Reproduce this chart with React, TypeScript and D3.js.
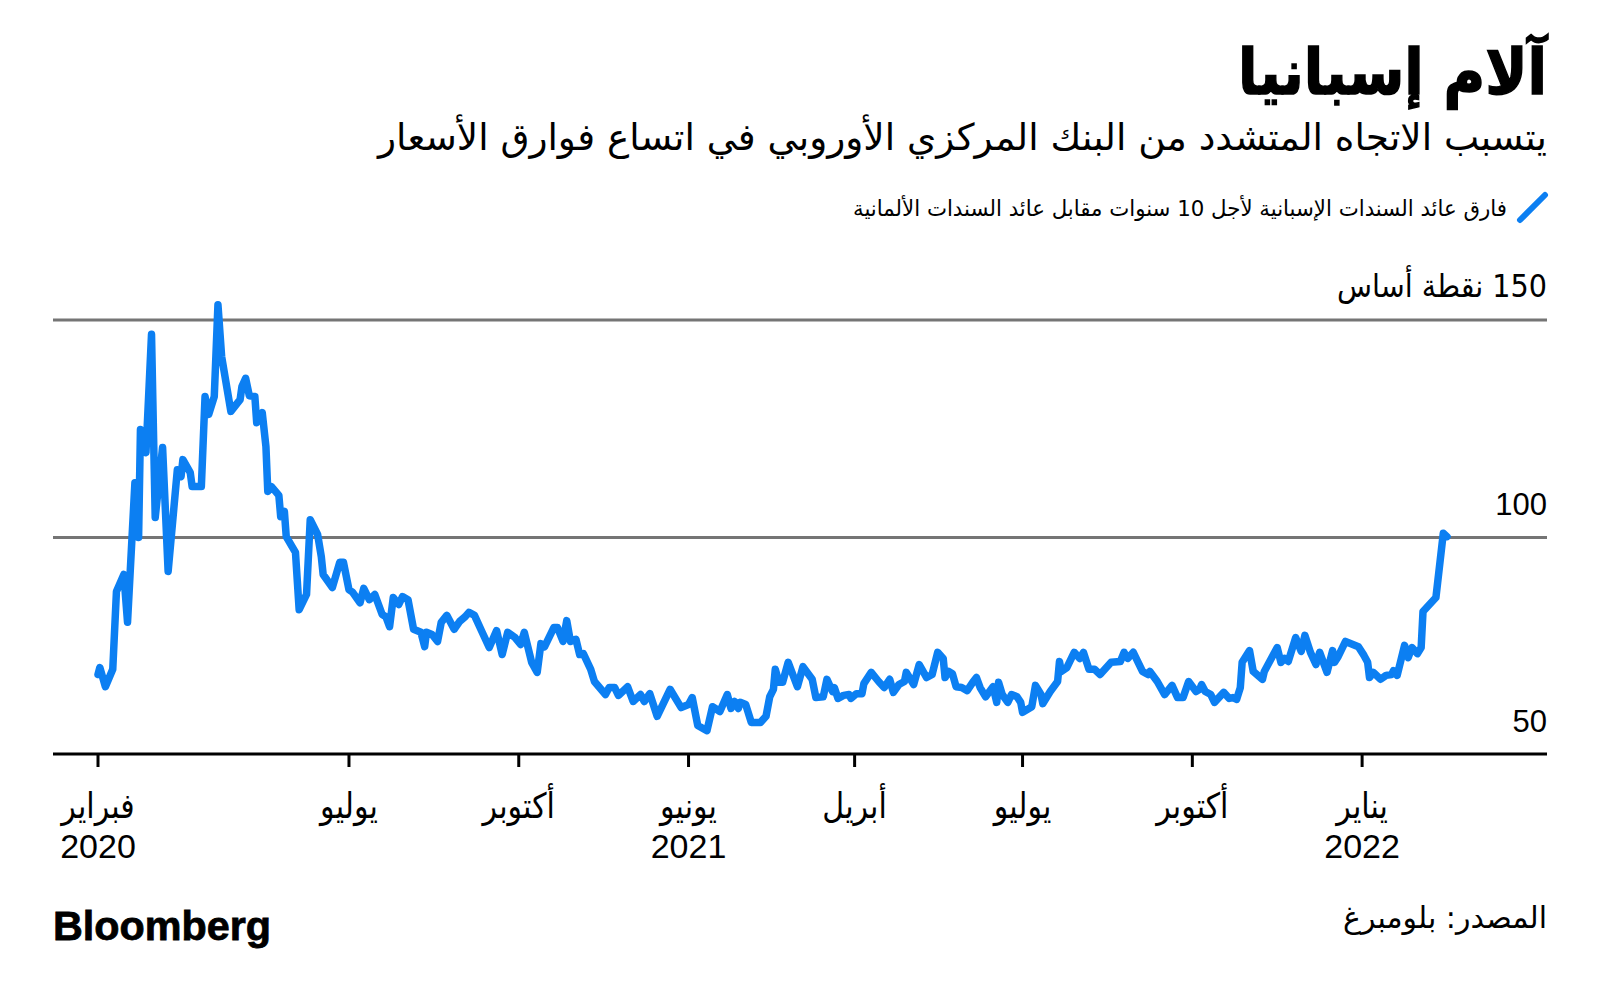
import React from "react";
import * as d3 from "d3";

const W = 1600;
const H = 1004;

const titleText = "آلام إسبانيا";
const subtitleText = "يتسبب الاتجاه المتشدد من البنك المركزي الأوروبي في اتساع فوارق الأسعار";
const legendText = "فارق عائد السندات الإسبانية لأجل 10 سنوات مقابل عائد السندات الألمانية";
const sourceText = "المصدر: بلومبرغ";
const yUnit = " نقطة أساس";

const yTicks = [50, 100, 150];
const xTickDates = ["2020-02-16", "2020-07-01", "2020-10-01", "2021-01-01", "2021-04-01", "2021-07-01", "2021-10-01", "2022-01-01"];
const xTickMonths = ["فبراير", "يوليو", "أكتوبر", "يونيو", "أبريل", "يوليو", "أكتوبر", "يناير"];
const xTickYears = ["2020", "", "", "2021", "", "", "", "2022"];

const dates = [
  "2020-02-16", "2020-02-17", "2020-02-20", "2020-02-24", "2020-02-26", "2020-03-01", "2020-03-03", "2020-03-07",
  "2020-03-09", "2020-03-10", "2020-03-13", "2020-03-16", "2020-03-18", "2020-03-22", "2020-03-25", "2020-03-30",
  "2020-04-01", "2020-04-02", "2020-04-06", "2020-04-07", "2020-04-12", "2020-04-14", "2020-04-16", "2020-04-19",
  "2020-04-21", "2020-04-23", "2020-04-28", "2020-05-03", "2020-05-04", "2020-05-06", "2020-05-08", "2020-05-11",
  "2020-05-12", "2020-05-15", "2020-05-17", "2020-05-18", "2020-05-20", "2020-05-24", "2020-05-25", "2020-05-27",
  "2020-05-28", "2020-06-02", "2020-06-04", "2020-06-08", "2020-06-10", "2020-06-14", "2020-06-16", "2020-06-17",
  "2020-06-22", "2020-06-26", "2020-06-28", "2020-07-01", "2020-07-03", "2020-07-07", "2020-07-09", "2020-07-12",
  "2020-07-15", "2020-07-19", "2020-07-21", "2020-07-23", "2020-07-25", "2020-07-28", "2020-07-30", "2020-08-02",
  "2020-08-05", "2020-08-09", "2020-08-11", "2020-08-12", "2020-08-15", "2020-08-18", "2020-08-20", "2020-08-23",
  "2020-08-27", "2020-08-30", "2020-09-02", "2020-09-04", "2020-09-07", "2020-09-11", "2020-09-15", "2020-09-19",
  "2020-09-22", "2020-09-25", "2020-09-29", "2020-10-02", "2020-10-04", "2020-10-08", "2020-10-11", "2020-10-13",
  "2020-10-15", "2020-10-20", "2020-10-22", "2020-10-25", "2020-10-27", "2020-10-29", "2020-11-01", "2020-11-03",
  "2020-11-05", "2020-11-09", "2020-11-11", "2020-11-17", "2020-11-19", "2020-11-22", "2020-11-24", "2020-11-29",
  "2020-12-02", "2020-12-06", "2020-12-08", "2020-12-11", "2020-12-15", "2020-12-22", "2020-12-28", "2021-01-01",
  "2021-01-03", "2021-01-06", "2021-01-11", "2021-01-14", "2021-01-18", "2021-01-22", "2021-01-24", "2021-01-26",
  "2021-01-28", "2021-01-29", "2021-02-01", "2021-02-04", "2021-02-09", "2021-02-12", "2021-02-14", "2021-02-16",
  "2021-02-17", "2021-02-19", "2021-02-21", "2021-02-24", "2021-03-01", "2021-03-04", "2021-03-09", "2021-03-11",
  "2021-03-15", "2021-03-17", "2021-03-20", "2021-03-21", "2021-03-23", "2021-03-26", "2021-03-29", "2021-03-30",
  "2021-04-02", "2021-04-05", "2021-04-06", "2021-04-10", "2021-04-14", "2021-04-17", "2021-04-20", "2021-04-22",
  "2021-04-25", "2021-04-28", "2021-04-29", "2021-05-03", "2021-05-06", "2021-05-10", "2021-05-13", "2021-05-16",
  "2021-05-19", "2021-05-20", "2021-05-22", "2021-05-24", "2021-05-26", "2021-05-29", "2021-06-01", "2021-06-04",
  "2021-06-06", "2021-06-08", "2021-06-11", "2021-06-15", "2021-06-17", "2021-06-18", "2021-06-20", "2021-06-23",
  "2021-06-25", "2021-06-28", "2021-06-30", "2021-07-01", "2021-07-06", "2021-07-08", "2021-07-11", "2021-07-12",
  "2021-07-16", "2021-07-20", "2021-07-21", "2021-07-22", "2021-07-25", "2021-07-29", "2021-08-01", "2021-08-03",
  "2021-08-06", "2021-08-09", "2021-08-12", "2021-08-18", "2021-08-23", "2021-08-25", "2021-08-27", "2021-08-30",
  "2021-09-04", "2021-09-07", "2021-09-08", "2021-09-12", "2021-09-16", "2021-09-20", "2021-09-23", "2021-09-26",
  "2021-09-29", "2021-10-03", "2021-10-05", "2021-10-06", "2021-10-08", "2021-10-11", "2021-10-13", "2021-10-18",
  "2021-10-21", "2021-10-23", "2021-10-25", "2021-10-27", "2021-10-28", "2021-11-01", "2021-11-03", "2021-11-08",
  "2021-11-09", "2021-11-16", "2021-11-18", "2021-11-20", "2021-11-22", "2021-11-26", "2021-11-29", "2021-12-01",
  "2021-12-04", "2021-12-07", "2021-12-09", "2021-12-13", "2021-12-16", "2021-12-17", "2021-12-19", "2021-12-23",
  "2021-12-30", "2022-01-02", "2022-01-04", "2022-01-05", "2022-01-07", "2022-01-11", "2022-01-14", "2022-01-17",
  "2022-01-18", "2022-01-20", "2022-01-24", "2022-01-26", "2022-01-28", "2022-01-31", "2022-02-02", "2022-02-03",
  "2022-02-10", "2022-02-14", "2022-02-16",
];

const spread = [
  68.5, 70.1, 65.7, 69.7, 87.6, 91.5, 80.5, 112.6,
  100, 124.8, 119.5, 146.7, 104.6, 120.7, 92.2, 115.6,
  114, 117.9, 114.9, 111.7, 111.7, 132.4, 128.3, 132.4,
  153.5, 141.6, 129, 131.7, 134.7, 136.6, 132.6, 132.4,
  126.4, 128.7, 120.9, 110.6, 111.7, 109.7, 104.8, 106,
  100.2, 96.6, 83.4, 86.9, 104.1, 100.7, 95.6, 91.5,
  88.5, 94.3, 94.3, 88, 87.4, 85, 88.3, 85.7,
  86.9, 82.3, 81.8, 79.5, 86.2, 84.6, 86.4, 85.7,
  78.9, 78.2, 74.9, 78.2, 77.7, 76.1, 80.5, 82.1,
  78.9, 80.7, 81.8, 82.8, 82.1, 78.4, 74.7, 78.6,
  73.1, 78.2, 77, 75.4, 78.2, 71.3, 69, 75.6,
  74.9, 79.3, 79.3, 76.1, 80.9, 76.1, 76.6, 73.1,
  73.3, 69.7, 66.9, 63.9, 65.5, 65.5, 63.7, 65.7,
  62.3, 63.9, 62.3, 64.1, 58.9, 65.1, 60.9, 61.6,
  63.2, 56.8, 55.6, 61.1, 60, 63.9, 60.7, 62.3,
  60.7, 62.1, 61.6, 57.5, 57.5, 58.9, 63.4, 65.1,
  69.7, 66.7, 66.7, 71.3, 65.7, 70.3, 67.4, 63.2,
  63.4, 67.4, 64.6, 65.5, 63, 63.7, 63.9, 63,
  64.1, 64.1, 66.4, 69, 66.9, 65.5, 67.4, 64.4,
  66.2, 66.9, 69, 66.2, 70.8, 67.8, 68.5, 73.6,
  72.2, 67.8, 69.2, 68.7, 65.7, 65.5, 64.8, 66.7,
  67.8, 65.5, 63.4, 65.7, 62.1, 66.7, 63.9, 62.1,
  63.9, 63.4, 62.1, 59.8, 61.1, 66, 63.9, 61.8,
  64.6, 66.9, 71.5, 69.2, 70.1, 73.6, 72.2, 73.6,
  69.7, 69.7, 68.5, 71.3, 71.5, 73.6, 72.2, 73.6,
  69.2, 68.5, 69.2, 66.9, 63.9, 66, 63.2, 63.2,
  66.9, 64.6, 65.1, 66.2, 64.6, 63.9, 62.1, 64.4,
  63, 63.2, 62.8, 65.5, 71.3, 74, 69.2, 67.4,
  69.2, 74.7, 71.3, 72.2, 71.5, 77, 73.8, 77.5,
  73.6, 70.8, 73.6, 69, 74, 71.3, 72.6, 76.1,
  74.9, 72.9, 71.3, 67.8, 69, 67.4, 68.3, 68.5,
  69.4, 68.3, 75.2, 72.4, 74.7, 73.3, 74.7, 83,
  86.2, 101, 100.2,
];

const BLUE = "#0c7ff2";
const AR_FONT = "'DejaVu Sans', sans-serif";
const NUM_FONT = "'Liberation Sans', Arial, sans-serif";

export default function App() {
  const left = 53;
  const right = 1547;
  const plotTop = 320;
  const plotBottom = 755;

  const parse = d3.utcParse("%Y-%m-%d");
  const data = dates.map((d, i) => ({ date: parse(d) as Date, value: spread[i] }));

  const x = d3
    .scaleUtc()
    .domain([parse("2020-02-16") as Date, parse("2022-02-16") as Date])
    .range([98, 1447]);
  const y = d3.scaleLinear().domain([50, 150]).range([plotBottom, plotTop]);

  const line = d3
    .line<{ date: Date; value: number }>()
    .x((d) => x(d.date))
    .y((d) => y(d.value))
    .curve(d3.curveLinear);

  const ticks = xTickDates.map((d, i) => ({
    x: x(parse(d) as Date),
    month: xTickMonths[i],
    year: xTickYears[i],
  }));

  return (
    <svg width={W} height={H} viewBox={`0 0 ${W} ${H}`} style={{ display: "block", position: "absolute", left: 0, top: 0, background: "#fff" }}>
      <rect x={0} y={0} width={W} height={H} fill="#fff" />
      {/* Title */}
      <text x={right} y={94} textAnchor="start" direction="rtl" fontFamily={AR_FONT} fontWeight="bold" fontSize={63} textLength={309} lengthAdjust="spacingAndGlyphs" fill="#000" stroke="#000" strokeWidth={1.5}>
        {titleText}
      </text>
      <text x={right} y={150} textAnchor="start" direction="rtl" fontFamily={AR_FONT} fontSize={37} textLength={1169} lengthAdjust="spacingAndGlyphs" fill="#000">
        {subtitleText}
      </text>
      {/* Legend */}
      <line x1={1520} y1={220} x2={1545} y2={195} stroke={BLUE} strokeWidth={6} strokeLinecap="round" />
      <text x={1507} y={216} textAnchor="start" direction="rtl" fontFamily={AR_FONT} fontSize={22} textLength={654} lengthAdjust="spacingAndGlyphs" fill="#000">
        {legendText}
      </text>

      {/* Gridlines */}
      {yTicks.filter((t) => t > 50).map((t) => (
        <line key={t} x1={left} x2={right} y1={y(t)} y2={y(t)} stroke="#757575" strokeWidth={3} />
      ))}
      {/* Y labels */}
      {yTicks.map((t) =>
        t === 150 ? (
          <text key={t} x={right} y={y(t) - 23} textAnchor="start" direction="rtl" fontFamily={AR_FONT} fontSize={32} textLength={210} lengthAdjust="spacingAndGlyphs" fill="#000">
            {`${t}${yUnit}`}
          </text>
        ) : (
          <text key={t} x={right} y={y(t) - 23} textAnchor="end" fontFamily={NUM_FONT} fontSize={31} fill="#000">
            {t}
          </text>
        )
      )}

      {/* Line */}
      <path d={line(data) || ""} fill="none" stroke={BLUE} strokeWidth={7.5} strokeLinejoin="round" strokeLinecap="round" />

      {/* X axis */}
      <line x1={left} x2={right} y1={plotBottom - 1} y2={plotBottom - 1} stroke="#000" strokeWidth={3} />
      {ticks.map((t, i) => (
        <g key={i}>
          <line x1={t.x} x2={t.x} y1={plotBottom - 1} y2={plotBottom + 12} stroke="#000" strokeWidth={3} />
          <text x={t.x} y={818} textAnchor="middle" fontFamily={AR_FONT} fontSize={35} fill="#000" transform={`translate(${t.x},0) scale(0.86,1) translate(${-t.x},0)`}>
            {t.month}
          </text>
          {t.year && (
            <text x={t.x} y={858} textAnchor="middle" fontFamily={NUM_FONT} fontSize={34} fill="#000">
              {t.year}
            </text>
          )}
        </g>
      ))}

      {/* Footer */}
      <text x={left} y={940} fontFamily={NUM_FONT} fontWeight="bold" fontSize={41} textLength={218} lengthAdjust="spacingAndGlyphs" fill="#000" stroke="#000" strokeWidth={0.8}>
        Bloomberg
      </text>
      <text x={right} y={928} textAnchor="start" direction="rtl" fontFamily={AR_FONT} fontSize={30} textLength={204} lengthAdjust="spacingAndGlyphs" fill="#000">
        {sourceText}
      </text>
    </svg>
  );
}
